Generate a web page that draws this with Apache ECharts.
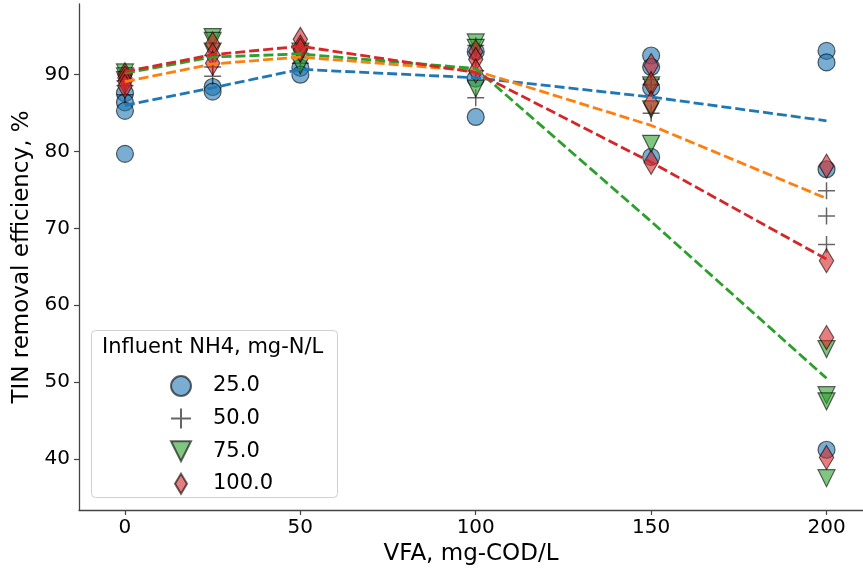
<!DOCTYPE html>
<html>
<head>
<meta charset="utf-8">
<script src="https://cdn.jsdelivr.net/npm/echarts@6/dist/echarts.min.js"></script>
<style>
html,body{margin:0;padding:0;background:#fff;}
#chart{width:863px;height:573px;}
</style>
</head>
<body>
<div id="chart"></div>
<script>
// ---- data ----
const legendTitle = 'Influent NH4, mg-N/L';
const groupNames = ['25.0', '50.0', '75.0', '100.0'];
const xTicks = [0, 50, 100, 150, 200];
const yTicks = [40, 50, 60, 70, 80, 90];
const fitX = [0, 25, 50, 100, 150, 200];

const nh25X = [0, 0, 0, 0, 25, 25, 50, 50, 100, 100, 100, 150, 150, 150, 150, 200, 200, 200, 200];
const nh25Y = [87.6, 86.4, 85.3, 79.7, 88.4, 87.8, 90.9, 90.0, 93.0, 89.5, 84.5, 92.5, 91.0, 88.3, 79.3, 93.1, 91.6, 77.7, 41.2];

const nh50X = [0, 0, 0, 25, 25, 25, 50, 50, 100, 100, 100, 150, 150, 150, 200, 200, 200];
const nh50Y = [89.2, 88.6, 87.4, 92.5, 91.0, 89.8, 92.8, 91.5, 93.8, 90.5, 87.0, 89.4, 88.7, 85.0, 74.9, 71.6, 67.9];

const nh75X = [0, 0, 0, 25, 25, 25, 50, 50, 50, 100, 100, 100, 150, 150, 150, 200, 200, 200, 200];
const nh75Y = [90.3, 89.8, 89.3, 94.9, 94.4, 93.0, 93.0, 92.6, 91.2, 94.2, 93.5, 88.2, 88.6, 85.5, 81.0, 54.3, 48.3, 47.5, 37.5];

const nh100X = [0, 0, 0, 0, 25, 25, 25, 50, 50, 50, 100, 100, 100, 150, 150, 150, 150, 200, 200, 200, 200];
const nh100Y = [90.0, 89.6, 89.1, 88.5, 94.0, 92.6, 91.5, 94.6, 93.6, 93.2, 93.0, 92.0, 90.5, 91.2, 88.8, 86.3, 78.6, 78.1, 65.8, 55.8, 40.2];

const fit25 = [86.0, 88.3, 90.7, 89.6, 87.1, 84.0];
const fit50 = [89.1, 91.4, 92.3, 90.5, 83.4, 73.9];
const fit75 = [90.2, 92.3, 92.7, 90.8, 70.9, 50.5];
const fit100 = [90.4, 92.6, 93.7, 90.3, 78.6, 66.0];

// ---- build ----
const zip = (xs, ys) => xs.map((x, i) => [x, ys[i]]);
const FONT = 'DejaVu Sans';
const edge = 'rgba(0,0,0,0.6)';

const circlePath = 'circle';
const plusPath = 'path://M0,10L20,10M10,0L10,20';
const triPath = 'path://M0,0L20,0L10,20Z';
const diaPath = 'path://M6,0L12,10L6,20L0,10Z';

function scatter(name, data, symbol, size, color, border, bw) {
  return {
    name, type: 'scatter', data, symbol, symbolSize: size, symbolKeepAspect: false,
    itemStyle: { color, borderColor: border, borderWidth: bw, opacity: 1 },
    emphasis: { disabled: true }, z: 2
  };
}
function fitLine(ys, color) {
  return {
    type: 'line', data: zip(fitX, ys), symbol: 'none', silent: true, z: 3,
    lineStyle: { color, width: 2.8, type: [10, 4] }
  };
}

const option = {
  animation: false,
  backgroundColor: '#fff',
  grid: { left: 79, top: 4, right: 0, bottom: 63, containLabel: false },
  xAxis: {
    type: 'value', min: -13.1, max: 210.4,
    name: 'VFA, mg-COD/L', nameLocation: 'middle', nameGap: 31,
    nameTextStyle: { fontFamily: FONT, fontSize: 23, color: '#000' },
    axisLine: { show: true, onZero: false, lineStyle: { color: '#444', width: 1.3 } },
    axisTick: { show: true, length: 5, customValues: xTicks, lineStyle: { color: '#444', width: 1.2 } },
    axisLabel: { customValues: xTicks, fontFamily: FONT, fontSize: 20, color: '#000', margin: 8 },
    splitLine: { show: false }
  },
  yAxis: {
    type: 'value', min: 33.36, max: 99.2,
    name: 'TIN removal efficiency, %', nameLocation: 'middle', nameGap: 43, nameRotate: 90,
    nameTextStyle: { fontFamily: FONT, fontSize: 23, color: '#000' },
    axisLine: { show: true, onZero: false, lineStyle: { color: '#444', width: 1.3 } },
    axisTick: { show: true, length: 5, customValues: yTicks, lineStyle: { color: '#444', width: 1.2 } },
    axisLabel: { customValues: yTicks, fontFamily: FONT, fontSize: 20, color: '#000', margin: 9 },
    splitLine: { show: false }
  },
  legend: {
    data: groupNames, orient: 'vertical', left: 165, top: 370, itemWidth: 20, itemHeight: 20, itemGap: 10.6,
    textStyle: { fontFamily: FONT, fontSize: 21, color: '#000', padding: [0, 0, 0, 17] },
    selectedMode: false
  },
  graphic: [
    {
      type: 'rect', left: 91, top: 330, z: 0,
      shape: { width: 246, height: 167, r: 4 },
      style: { fill: 'rgba(255,255,255,0.8)', stroke: '#d0d0d0', lineWidth: 1 }
    },
    {
      type: 'text', left: 102, top: 337, z: 1,
      style: { text: legendTitle, fontFamily: FONT, fontSize: 21, fill: '#000' }
    }
  ],
  series: [
    scatter(groupNames[0], zip(nh25X, nh25Y), circlePath, 17, 'rgba(31,119,180,0.6)', edge, 1.2),
    scatter(groupNames[1], zip(nh50X, nh50Y), plusPath, 17, 'rgba(0,0,0,0)', 'rgba(0,0,0,0.6)', 1.5),
    scatter(groupNames[2], zip(nh75X, nh75Y), triPath, 17, 'rgba(44,160,44,0.6)', edge, 1.2),
    scatter(groupNames[3], zip(nh100X, nh100Y), diaPath, [14.4, 24], 'rgba(214,39,40,0.6)', edge, 1.2),
    fitLine(fit25, '#1f77b4'),
    fitLine(fit50, '#ff7f0e'),
    fitLine(fit75, '#2ca02c'),
    fitLine(fit100, '#d62728')
  ]
};

const chart = echarts.init(document.getElementById('chart'), null, { renderer: 'canvas' });
chart.setOption(option);
</script>
</body>
</html>
